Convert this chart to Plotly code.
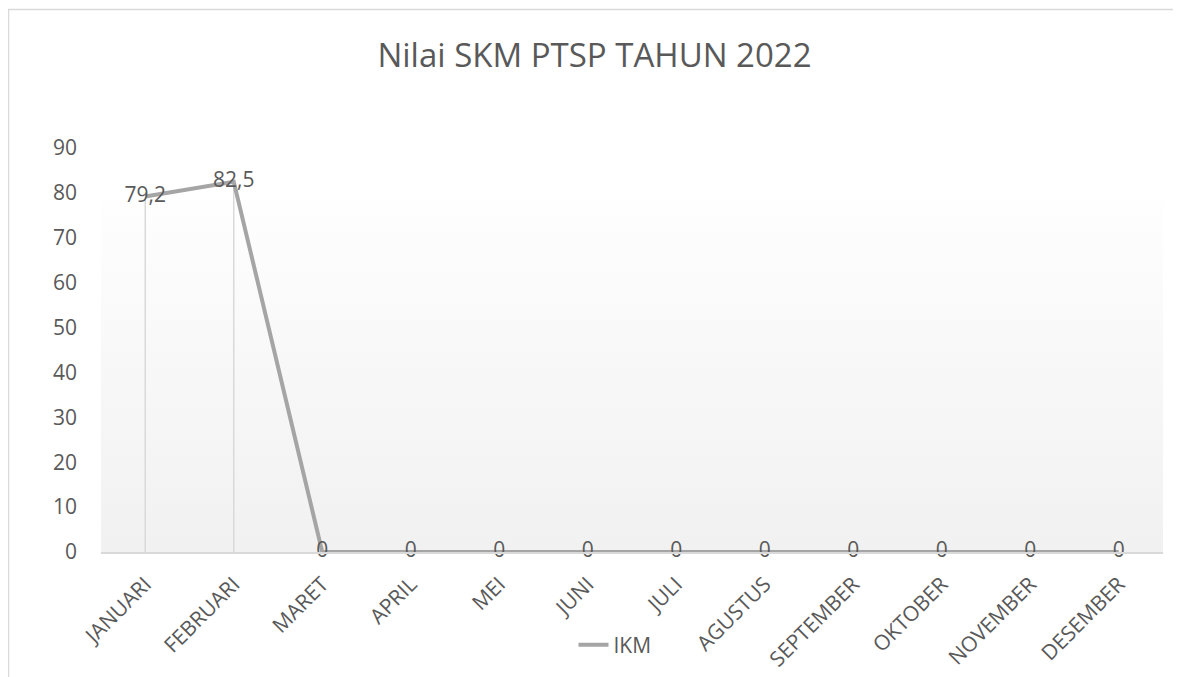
import base64
import plotly.graph_objects as go

months = ["JANUARI", "FEBRUARI", "MARET", "APRIL", "MEI", "JUNI", "JULI",
          "AGUSTUS", "SEPTEMBER", "OKTOBER", "NOVEMBER", "DESEMBER"]
ikm = [79.2, 82.5, 0, 0, 0, 0, 0, 0, 0, 0, 0, 0]
y_ticks = [0, 10, 20, 30, 40, 50, 60, 70, 80, 90]
title_text = "Nilai SKM PTSP TAHUN 2022"
series_name = "IKM"

labels = [("%g" % v).replace(".", ",") for v in ikm]

FONT = "Open Sans"
TXT = "#595959"
LINE = "#a5a5a5"

# the page body has an 8px margin, so the figure is sized to fit the window
OFF = 8
W, H = 1181 - OFF, 677 - OFF
ML, MR, MT, MB = 101 - OFF, 18, 148 - OFF, 125
plot_h = H - MT - MB
plot_w = W - ML - MR

# gradient background of plot area (white -> light gray)
svg = ('<svg xmlns="http://www.w3.org/2000/svg" width="100" height="100" preserveAspectRatio="none">'
       '<defs><linearGradient id="g" x1="0" y1="0" x2="0" y2="1">'
       '<stop offset="0" stop-color="#fefefe"/><stop offset="1" stop-color="#f1f1f1"/>'
       '</linearGradient></defs><rect width="100" height="100" fill="url(#g)"/></svg>')
src = "data:image/svg+xml;base64," + base64.b64encode(svg.encode()).decode()
grad_top = 78.4

fig = go.Figure()
fig.add_trace(go.Scatter(
    x=months, y=ikm, name=series_name, mode="lines+text",
    line=dict(color=LINE, width=4),
    text=labels, textposition="middle center", cliponaxis=False,
    textfont=dict(family=FONT, size=21, color=TXT),
    error_y=dict(type="data", symmetric=False, array=[0] * len(ikm),
                 arrayminus=ikm, color="#d9d9d9", thickness=1.5, width=0),
))

fig.update_layout(
    width=W, height=H,
    margin=dict(l=ML, r=MR, t=MT, b=MB, autoexpand=False),
    paper_bgcolor="white", plot_bgcolor="white",
    font=dict(family=FONT, color=TXT),
    title=dict(text=title_text, x=0.5, xanchor="center", y=1 - 47 / H, yanchor="middle",
               font=dict(family=FONT, size=33, color=TXT)),
    xaxis=dict(range=[-0.5, len(months) - 0.5], tickangle=-45, automargin=False,
               tickfont=dict(family=FONT, size=21, color=TXT), ticklabelstandoff=10,
               showgrid=False, showline=True, linecolor="#d9d9d9", linewidth=1.5,
               ticks="", zeroline=False),
    yaxis=dict(range=[0, 90], tickvals=y_ticks, showgrid=False, zeroline=False,
               showline=False, ticks="", ticklabelstandoff=23, automargin=False,
               tickfont=dict(family=FONT, size=21, color=TXT)),
    showlegend=True,
    legend=dict(orientation="h", x=0.484, xanchor="center",
                y=-93 / plot_h, yanchor="middle",
                font=dict(family=FONT, size=21, color=TXT),
                bgcolor="rgba(0,0,0,0)"),
    images=[dict(source=src, xref="paper", yref="y", x=0, y=grad_top,
                 sizex=1, sizey=grad_top, sizing="stretch", layer="below",
                 xanchor="left", yanchor="top")],
    shapes=[dict(type="rect", xref="paper", yref="paper",
                 x0=(0.5 - ML) / plot_w, x1=(W + 5 - ML) / plot_w,
                 y0=-(H + 5 - MT - plot_h) / plot_h, y1=(plot_h + MT - 1.5) / plot_h,
                 line=dict(color="#d9d9d9", width=1.5), fillcolor="rgba(0,0,0,0)",
                 layer="below")],
)

fig.write_html("out.html")
